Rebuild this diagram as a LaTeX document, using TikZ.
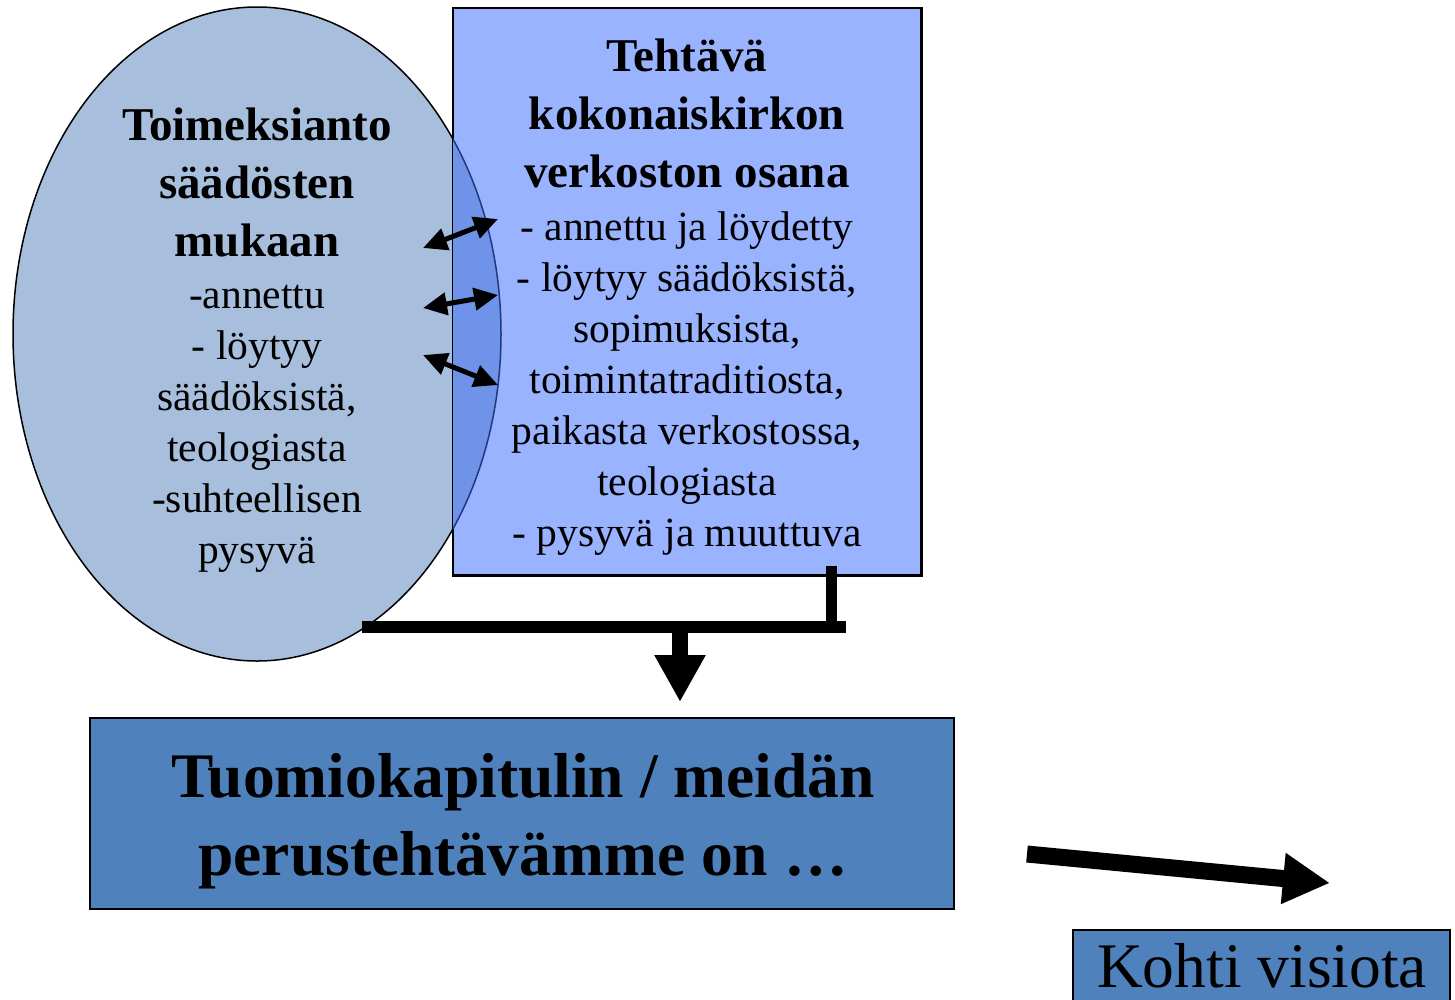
\documentclass[tikz,border=0pt]{standalone}
\usepackage{fontspec}
\setmainfont{Liberation Serif}
\usetikzlibrary{arrows.meta,shapes.geometric}
\definecolor{mandatefill}{RGB}{167,191,220}
\definecolor{taskfill}{RGB}{153,179,255}
\definecolor{overlapfill}{RGB}{111,147,232}
\definecolor{overlapline}{RGB}{35,55,125}
\definecolor{boxfill}{RGB}{79,129,189}
\tikzset{
  twoway/.style={line width=5pt,{Triangle[length=24pt,width=22pt]}-{Triangle[length=24pt,width=22pt]}},
  joinbar/.style={line width=12pt},
  bigarrow/.style={-{Triangle[length=47pt,width=48pt]}},
  headtext/.style={align=center,inner sep=0pt,font=\fontsize{47}{58}\selectfont\bfseries},
  bodytext/.style={align=center,inner sep=0pt,font=\fontsize{41.5}{51}\selectfont},
}
\begin{document}
\begin{tikzpicture}[x=1pt,y=1pt,yscale=-1]
\useasboundingbox (0,0) rectangle (1455,999);

%Shape: Ellipse [id:mandate]
\node[ellipse,draw,line width=1.5pt,fill=mandatefill,minimum width=488pt,minimum height=654pt,inner sep=0pt] (mandate) at (257,334) {};
%Shape: Rectangle [id:task]
\node[rectangle,draw,line width=1.5pt,fill=taskfill,minimum width=468pt,minimum height=567pt,inner sep=0pt] (task) at (687,291.5) {};

%Overlap of ellipse and rectangle
\begin{scope}
  \clip (task.north west) rectangle (task.south east);
  \fill[overlapfill] (mandate.center) ellipse [x radius=244, y radius=327];
  \draw[overlapline,line width=1.5pt] (mandate.center) ellipse [x radius=244, y radius=327];
\end{scope}
\draw[line width=1.5pt] (task.north west) rectangle (task.south east);

% Text Node
\node[headtext] (mandatehead) at (257,182) {Toimeksianto\\säädösten\\mukaan};
\node[bodytext] (mandatebody) at (257,429) {-annettu\\- löytyy\\säädöksistä,\\teologiasta\\-suhteellisen\\pysyvä};
% Text Node
\node[headtext] (taskhead) at (687,113) {Tehtävä\\kokonaiskirkon\\verkoston osana};
\node[bodytext] (taskbody) at (687,384) {- annettu ja löydetty\\- löytyy säädöksistä,\\sopimuksista,\\toimintatraditiosta,\\paikasta verkostossa,\\teologiasta\\- pysyvä ja muuttuva};

%Shape: Rectangle [id:basic]
\node[rectangle,draw,line width=1.5pt,fill=boxfill,minimum width=864pt,minimum height=191pt,inner sep=0pt] (basic) at (522,813.5) {};
\node[align=center,inner sep=0pt,font=\fontsize{63.5}{78}\selectfont\bfseries] (basictext) at (523,821)
  {Tuomiokapitulin / meidän\\perustehtävämme on …};
%Shape: Rectangle [id:vision]
\node[rectangle,draw,line width=1.5pt,fill=boxfill,minimum width=377pt,minimum height=90pt,inner sep=0pt] (vision) at (1261.5,975) {};
\node[inner sep=0pt,font=\fontsize{63.5}{70}\selectfont] (visiontext) at (1262,966) {Kohti visiota};

%Double arrows
\coordinate (l1) at (423,248); \coordinate (r1) at (498,219);
\coordinate (l2) at (423,308); \coordinate (r2) at (498,295);
\coordinate (l3) at (423,355); \coordinate (r3) at (498,385);
\draw[twoway] (l1) -- (r1);
\draw[twoway] (l2) -- (r2);
\draw[twoway] (l3) -- (r3);

%Straight Lines [id:join]
\coordinate (drop) at (831,566);
\coordinate (joinleft) at (362,627);
\coordinate (joinright) at (846,627);
\coordinate (joinmid) at (680,627);
\coordinate (downtip) at (680,702);
\draw[line width=11pt] (drop) -- (831,633);
\draw[joinbar] (joinleft) -- (joinright);
\draw[line width=16pt,bigarrow] (joinmid) -- (downtip);

%Arrow towards vision
\coordinate (towardstail) at (1027,854);
\coordinate (towardstip) at (1330,883);
\draw[line width=17pt,bigarrow] (towardstail) -- (towardstip);

\end{tikzpicture}
\end{document}
